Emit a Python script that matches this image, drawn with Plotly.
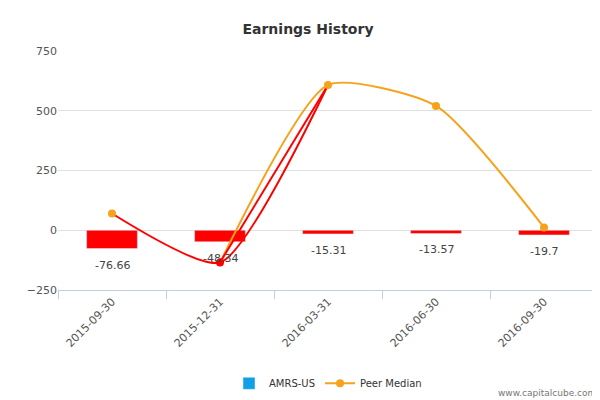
import plotly.graph_objects as go

dates = ["2015-09-30", "2015-12-31", "2016-03-31", "2016-06-30", "2016-09-30"]
amrs = [-76.66, -48.34, -15.31, -13.57, -19.7]
amrs_labels = ["-76.66", "-48.34", "-15.31", "-13.57", "-19.7"]
peer = [70, -135, 608, 520, 12]
peer_colors = ["#f7a21b", "#ff0000", "#f7a21b", "#f7a21b", "#f7a21b"]

fig = go.Figure()
fig.add_trace(go.Bar(x=dates, y=amrs, marker_color="#ff0000", width=0.47,
                     name="AMRS-US", showlegend=False, hoverinfo="skip"))
fig.add_trace(go.Bar(x=[None], y=[None], marker_color="#0fa0e8", name="AMRS-US"))
fig.add_trace(go.Scatter(x=dates[:3], y=peer[:3], mode="lines",
                         line=dict(color="#ff0000", width=2, shape="spline", smoothing=0.6),
                         showlegend=False))
fig.add_trace(go.Scatter(x=dates[1:], y=peer[1:], mode="lines",
                         line=dict(color="#f7a21b", width=2, shape="spline", smoothing=0.6),
                         showlegend=False))
fig.add_trace(go.Scatter(x=dates[1:3], y=peer[1:3], mode="lines",
                         line=dict(color="#ff0000", width=2, shape="spline", smoothing=0.6),
                         showlegend=False))
fig.add_trace(go.Scatter(x=dates, y=peer, mode="markers", marker=dict(color=peer_colors, size=8), showlegend=False))
fig.add_trace(go.Scatter(x=[None], y=[None], mode="lines+markers", line=dict(color="#f7a21b", width=2),
                         marker=dict(size=8, color="#f7a21b"), name="Peer Median"))
for d, v, t in zip(dates, amrs, amrs_labels):
    fig.add_annotation(x=d, y=v, text=t, showarrow=False, yshift=-8, yanchor="top",
                       font=dict(size=11, color="#444"))

fig.update_layout(
    width=600, height=400, plot_bgcolor="white", paper_bgcolor="white",
    margin=dict(l=50, r=10, t=43, b=113),
    title=dict(text="<b>Earnings History</b>", x=0.5, y=0.96, font=dict(size=14, color="#333", family="DejaVu Sans")),
    font=dict(family="DejaVu Sans", size=11, color="#555"),
    xaxis=dict(type="category", tickangle=-45, showline=True, linecolor="#c0d0e0", automargin=False,
               ticks="outside", tickson="boundaries", tickcolor="#c0d0e0", ticklen=8, showgrid=False),
    yaxis=dict(range=[-250, 750], tickvals=[-250, 0, 250, 500, 750], gridcolor="#e0e0e0",
               zeroline=False, showline=False, automargin=False),
    legend=dict(orientation="h", x=0.5, xanchor="center", y=-0.33, yanchor="top",
                font=dict(size=10, color="#333")),
)
fig.add_annotation(text="www.capitalcube.com", xref="paper", yref="paper", x=1.0, y=-0.4,
                   xanchor="right", yanchor="top", showarrow=False, font=dict(size=9, color="#777"))
fig.write_html("out.html")
